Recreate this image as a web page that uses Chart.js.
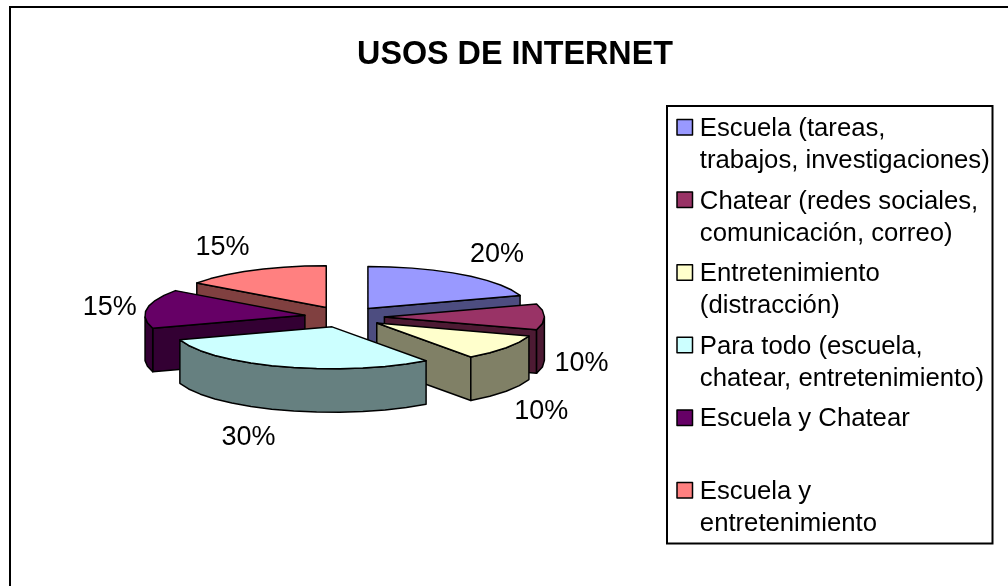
<!DOCTYPE html>
<html>
<head>
<meta charset="utf-8">
<title>USOS DE INTERNET</title>
<script src="https://cdn.jsdelivr.net/npm/chart.js@4"></script>
<style>
  html, body { margin: 0; background: #fff; }
  canvas { display: block; }
</style>
</head>
<body>
<canvas id="pieChart" width="1008" height="586"></canvas>
<script>
// Datos
const categories = [
    ['Escuela (tareas,', 'trabajos, investigaciones)'],
    ['Chatear (redes sociales,', 'comunicación, correo)'],
    ['Entretenimiento', '(distracción)'],
    ['Para todo (escuela,', 'chatear, entretenimiento)'],
    ['Escuela y Chatear', ''],
    ['Escuela y', 'entretenimiento']
];
const values = [20, 10, 10, 30, 15, 15];
const topColors = ['#9999FF', '#993366', '#FFFFCC', '#CCFFFF', '#660066', '#FF8080'];
const wallColors = ['#4D4D80', '#4D1A33', '#808066', '#668080', '#330033', '#804040'];

// Ajuste de cada etiqueta respecto al borde de su porción
const labelNudges = [[35, -20], [37, 47], [35, 64], [-34, 71], [-37, -1], [-31, -23]];

const FONT = '"Liberation Sans", Arial, sans-serif';
const SQUASH = 0.262;  // relación alto/ancho de la elipse
const DEPTH = 43.5;    // altura de la torta
const ARC_STEP = Math.PI / 22;

// --- GEOMETRÍA DE UNA PORCIÓN ---
function slicePoints(arc, cx, cy) {
    const { startAngle, endAngle, outerRadius } = arc.getProps(['startAngle', 'endAngle', 'outerRadius']);
    const mid = (startAngle + endAngle) / 2;
    const shift = arc.options.offset / 4;
    const ox = cx + Math.cos(mid) * shift;
    const oy = cy + Math.sin(mid) * shift * SQUASH;
    const rim = [];
    const steps = Math.max(1, Math.round((endAngle - startAngle) / ARC_STEP));
    for (let i = 0; i <= steps; i++) {
        const a = startAngle + (endAngle - startAngle) * i / steps;
        rim.push({
            x: ox + Math.cos(a) * outerRadius,
            y: oy + Math.sin(a) * outerRadius * SQUASH
        });
    }
    return { tip: { x: ox, y: oy }, rim, mid, outerRadius };
}

function tracePolygon(ctx, pts) {
    ctx.beginPath();
    pts.forEach((p, i) => (i ? ctx.lineTo(p.x, p.y) : ctx.moveTo(p.x, p.y)));
    ctx.closePath();
}

function drawWall(ctx, pts, fill) {
    const lower = pts.slice().reverse().map(p => ({ x: p.x, y: p.y + DEPTH }));
    tracePolygon(ctx, pts.concat(lower));
    ctx.fillStyle = fill;
    ctx.fill();
    ctx.stroke();
}

// Una cara se ve sólo si su borde superior corre de derecha a izquierda
function drawSlice(ctx, geo, top, wall) {
    const { tip, rim } = geo;
    const first = rim[0];
    const last = rim[rim.length - 1];
    ctx.strokeStyle = '#000';
    ctx.lineWidth = 1.5;
    ctx.lineJoin = 'round';

    if (first.x < tip.x) drawWall(ctx, [tip, first], wall);
    if (tip.x < last.x) drawWall(ctx, [last, tip], wall);

    let run = [];
    for (let i = 0; i < rim.length - 1; i++) {
        if (rim[i + 1].x < rim[i].x) {
            if (!run.length) run.push(rim[i]);
            run.push(rim[i + 1]);
        }
    }
    if (run.length) drawWall(ctx, run, wall);

    tracePolygon(ctx, [tip].concat(rim));
    ctx.fillStyle = top;
    ctx.fill();
    ctx.stroke();
}

// --- PLUGIN: TORTA 3D, MARCO Y ETIQUETAS ---
const pie3d = {
    id: 'pie3d',
    afterLayout(chart) {
        // centro de la torta y ubicación de título y leyenda
        const radius = chart.config.data.datasets[0].radius;
        const cx = 344.4, cy = 316.9;
        chart.chartArea = {
            left: cx - radius, right: cx + radius, top: cy - radius, bottom: cy + radius,
            width: radius * 2, height: radius * 2
        };
        const legend = chart.legend;
        const w = legend.width;
        legend.left = 669;
        legend.right = 669 + w;
        legend.top = 108;
        legend.bottom = 544;
        legend.adjustHitBoxes();
        chart.titleBlock.left = 20;
        chart.titleBlock.right = 1010;
    },
    beforeDraw(chart) {
        const ctx = chart.ctx;
        ctx.save();
        ctx.fillStyle = '#fff';
        ctx.fillRect(0, 0, chart.width, chart.height);
        ctx.strokeStyle = '#000';
        ctx.lineWidth = 2;
        ctx.strokeRect(10, 7, 1100, 700);
        ctx.fillRect(667, 106, 325.5, 437.5);
        ctx.strokeRect(667, 106, 325.5, 437.5);
        ctx.restore();
    },
    beforeDatasetDraw(chart, args) {
        const ctx = chart.ctx;
        const arcs = args.meta.data;
        const slices = arcs.map((arc, i) => ({ i, geo: slicePoints(arc, arc.x, arc.y) }));
        // de atrás hacia adelante
        slices.slice().sort((a, b) => Math.sin(a.geo.mid) - Math.sin(b.geo.mid)).forEach(s => {
            drawSlice(ctx, s.geo, topColors[s.i], wallColors[s.i]);
        });
        const total = values.reduce((a, b) => a + b, 0);
        ctx.save();
        ctx.fillStyle = '#000';
        ctx.font = '27px ' + FONT;
        ctx.textAlign = 'center';
        ctx.textBaseline = 'middle';
        slices.forEach(({ i, geo }) => {
            const x = geo.tip.x + Math.cos(geo.mid) * geo.outerRadius + labelNudges[i][0];
            const y = geo.tip.y + Math.sin(geo.mid) * geo.outerRadius * SQUASH + labelNudges[i][1];
            ctx.fillText(Math.round(values[i] / total * 100) + '%', x, y);
        });
        ctx.restore();
        return false;
    },
    afterDraw(chart) {
        // cuadros de la leyenda, un poco más grandes que los de Chart.js
        const ctx = chart.ctx;
        ctx.save();
        ctx.lineWidth = 1.5;
        ctx.strokeStyle = '#000';
        chart.legend.legendHitBoxes.forEach((box, i) => {
            const y = box.top + 3.5;
            ctx.fillStyle = topColors[i];
            ctx.fillRect(677, y, 15.5, 15.5);
            ctx.strokeRect(677, y, 15.5, 15.5);
        });
        ctx.restore();
    }
};

// --- GRÁFICO ---
new Chart(document.getElementById('pieChart'), {
    type: 'pie',
    plugins: [pie3d],
    data: {
        labels: categories,
        datasets: [{
            data: values,
            backgroundColor: topColors,
            radius: 160,
            offset: 160,
            borderWidth: 0
        }]
    },
    options: {
        responsive: false,
        animation: false,
        plugins: {
            tooltip: { enabled: false },
            title: {
                display: true,
                text: 'USOS DE INTERNET',
                color: '#000',
                font: { family: FONT, size: 32.3, weight: 'bold', lineHeight: 1.2 },
                padding: { top: 36, bottom: 10 }
            },
            legend: {
                position: 'right',
                align: 'start',
                onClick: null,
                labels: {
                    color: '#000',
                    font: { family: FONT, size: 25.7, lineHeight: 1.257 },
                    boxWidth: 10,
                    boxHeight: 10,
                    padding: 8,
                    generateLabels: () => categories.map((text, i) => ({
                        text,
                        fillStyle: 'rgba(0,0,0,0)',
                        strokeStyle: 'rgba(0,0,0,0)',
                        lineWidth: 0,
                        index: i
                    }))
                }
            }
        }
    }
});
</script>
</body>
</html>
